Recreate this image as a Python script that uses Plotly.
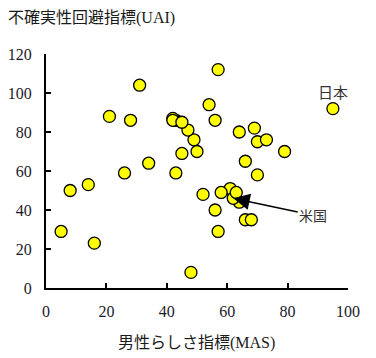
import plotly.graph_objects as go

countries = ["Argentina", "Australia", "Austria", "Belgium", "Brazil", "Canada", "Chile",
             "Colombia", "Denmark", "Finland", "France", "Great Britain", "Germany", "Greece",
             "Hong Kong", "India", "Iran", "Ireland", "Israel", "Italy", "Japan", "Mexico",
             "Netherlands", "Norway", "New Zealand", "Pakistan", "Peru", "Philippines",
             "Portugal", "Singapore", "Spain", "Sweden", "Switzerland", "Taiwan", "Thailand",
             "Turkey", "USA", "Venezuela", "Yugoslavia", "South Africa"]
mas = [56, 61, 79, 54, 49, 52, 28, 64, 16, 26, 43, 66, 66, 57, 57, 56, 43, 68, 47, 70, 95, 69,
       14, 8, 58, 50, 42, 64, 31, 48, 42, 5, 70, 45, 34, 45, 62, 73, 21, 63]
uai = [86, 51, 70, 94, 76, 48, 86, 80, 23, 59, 86, 35, 65, 112, 29, 40, 59, 35, 81, 75, 92, 82,
       53, 50, 49, 70, 87, 44, 104, 8, 86, 29, 58, 69, 64, 85, 46, 76, 88, 49]

x_ticks = [0, 20, 40, 60, 80, 100]
y_ticks = [0, 20, 40, 60, 80, 100, 120]

serif = "Liberation Serif"
cjk = "Liberation Serif, Noto Sans CJK JP"
tick_color = "#1a1a2a"

# page has an 8px body margin; figure coordinates are offset by it
W, H = 368, 350
L, T = 38, 46
PW, PH = 302, 234

fig = go.Figure()
fig.add_trace(go.Scatter(
    x=mas, y=uai, mode="markers", text=countries,
    marker=dict(size=12, color="#FFFF00", line=dict(color="#000000", width=1.3)),
    cliponaxis=False, showlegend=False,
))

fig.update_layout(
    width=W, height=H,
    margin=dict(l=L, r=W - L - PW, t=T, b=H - T - PH),
    paper_bgcolor="white", plot_bgcolor="white",
    xaxis=dict(range=[0, 100], tickvals=x_ticks, showgrid=False, zeroline=False,
               showline=True, linecolor="black", linewidth=2, automargin=False,
               ticks="inside", ticklen=5, tickwidth=2, tickcolor="black",
               tickfont=dict(family=serif, size=16, color=tick_color),
               ticklabelstandoff=8),
    yaxis=dict(range=[0, 120], tickvals=y_ticks, showgrid=False, zeroline=False,
               showline=True, linecolor="black", linewidth=2, automargin=False,
               ticks="inside", ticklen=5, tickwidth=2, tickcolor="black",
               tickfont=dict(family=serif, size=16, color=tick_color),
               ticklabelstandoff=9),
)

fig.add_annotation(text="不確実性回避指標(UAI)", xref="paper", yref="paper",
                   x=-(46 - 7) / PW, y=1 + T / PH, xanchor="left", yanchor="top",
                   borderpad=0,
                   showarrow=False, font=dict(family=cjk, size=16, color="#1a1a1a"))
fig.add_annotation(text="男性らしさ指標(MAS)", xref="paper", yref="paper",
                   x=(196 - 46) / PW, y=-(343 - 288) / PH, xanchor="center", yanchor="middle",
                   showarrow=False, font=dict(family=cjk, size=16, color="#1a1a1a"))

fig.add_annotation(text="日本", x=95, y=101, showarrow=False,
                   font=dict(family="Noto Sans CJK JP", size=15, color="#333333"))
fig.add_annotation(text="米国", x=62, y=46, ax=80, ay=17, showarrow=True,
                   arrowhead=2, arrowsize=2.2, arrowwidth=1.5, arrowcolor="black",
                   font=dict(family="Noto Sans CJK JP", size=14, color="#333333"))

fig.write_html("out.html")
